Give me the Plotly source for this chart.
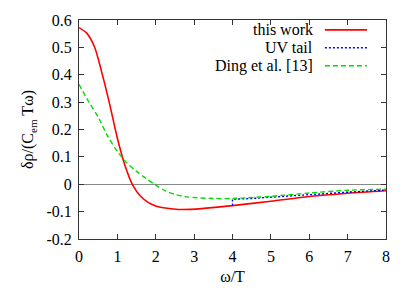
import plotly.graph_objects as go

# ---- data ----
omega_this = [0, 0.2, 0.4, 0.6, 0.8, 1.0, 1.2, 1.4, 1.6, 1.8, 2.0, 2.2, 2.6, 3.2, 4.0, 5.0, 6.0, 7.0, 8.0]
rho_this = [0.572, 0.552, 0.503, 0.405, 0.292, 0.168, 0.068, -0.003, -0.043, -0.066, -0.079,
            -0.086, -0.092, -0.089, -0.078, -0.062, -0.045, -0.033, -0.024]

omega_uv = [4.0, 4.0, 4.5, 5.0, 5.5, 6.0, 7.0, 8.0]
rho_uv = [-0.078, -0.055, -0.052, -0.048, -0.043, -0.038, -0.029, -0.021]

omega_ding = [0, 0.25, 0.5, 0.75, 1.0, 1.25, 1.5, 1.75, 2.0, 2.25, 2.5, 2.8, 3.5, 4.0, 5.0, 6.0, 7.0, 8.0]
rho_ding = [0.365, 0.302, 0.245, 0.175, 0.120, 0.078, 0.047, 0.021, -0.003, -0.024, -0.037,
            -0.046, -0.052, -0.052, -0.044, -0.032, -0.022, -0.018]

names = ["this work", "UV tail", "Ding et al. [13]"]
colors = ["#ff0000", "#0000ff", "#00dd00"]
dashes = ["solid", "2px,2px", "5px,3px"]

x_ticks = list(range(0, 9))
y_ticks = [-0.2, -0.1, 0, 0.1, 0.2, 0.3, 0.4, 0.5, 0.6]
y_ticklabels = ["-0.2", "-0.1", "0", "0.1", "0.2", "0.3", "0.4", "0.5", "0.6"]

FONT = "Liberation Serif"
FS = 16

fig = go.Figure()
fig.add_trace(go.Scatter(x=omega_this, y=rho_this, mode="lines", name=names[0],
                         line=dict(color=colors[0], width=1.6, shape="spline", smoothing=0.8,
                                   dash=dashes[0])))
fig.add_trace(go.Scatter(x=omega_uv, y=rho_uv, mode="lines", name=names[1],
                         line=dict(color=colors[1], width=1.4, dash=dashes[1])))
fig.add_trace(go.Scatter(x=omega_ding, y=rho_ding, mode="lines", name=names[2],
                         line=dict(color=colors[2], width=1.4, shape="spline", smoothing=0.8,
                                   dash=dashes[2])))

# gnuplot-style legend: right-aligned text followed by line sample
leg_y = [0.955, 0.873, 0.791]
for nm, c, d, yy in zip(names, colors, dashes, leg_y):
    fig.add_annotation(x=0.765, y=yy, xref="paper", yref="paper", text=nm, showarrow=False,
                       xanchor="right", yanchor="middle", borderpad=0,
                       font=dict(family=FONT, size=FS, color="black"))
    fig.add_shape(type="line", xref="paper", yref="paper", x0=0.801, x1=0.938, y0=yy, y1=yy,
                  line=dict(color=c, width=1.6 if d == "solid" else 1.4, dash=d))

axis_common = dict(showline=True, linecolor="#333333", linewidth=1, mirror="ticks",
                   ticks="inside", ticklen=5, tickcolor="#333333", showgrid=False,
                   automargin=False, tickfont=dict(family=FONT, size=FS, color="black"))

fig.update_layout(
    width=415, height=291,
    margin=dict(l=79, r=29, t=20, b=52),
    paper_bgcolor="white", plot_bgcolor="white",
    showlegend=False,
    font=dict(family=FONT, size=FS, color="black"),
    xaxis=dict(range=[0, 8], tickvals=x_ticks, zeroline=False, ticklabelstandoff=3,
               title=dict(text="ω/T", font=dict(family=FONT, size=FS), standoff=6),
               **axis_common),
    yaxis=dict(range=[-0.2, 0.6], tickvals=y_ticks, ticktext=y_ticklabels, ticklabelstandoff=3,
               zeroline=True, zerolinecolor="#888888", zerolinewidth=1,
               title=dict(text="δρ/(C<sub>em</sub> Tω)", font=dict(family=FONT, size=FS), standoff=8),
               **axis_common),
)

fig.write_html("out.html", config={"displayModeBar": False},
               post_script="document.body.style.margin='0';document.body.style.overflow='hidden';")
